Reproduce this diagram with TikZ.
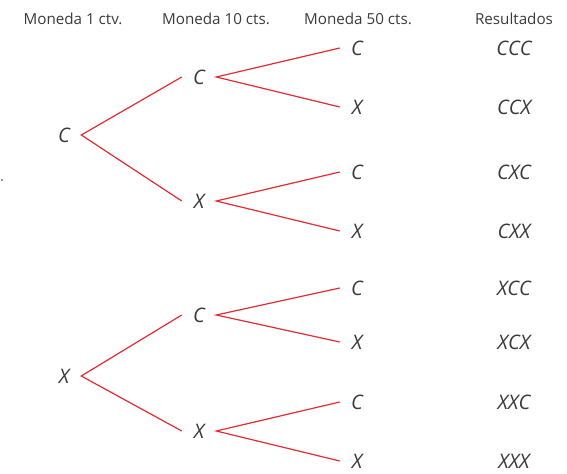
\documentclass[tikz,border=0pt]{standalone}
\usepackage{fontspec}
\setmainfont{Open Sans}
\usepackage{xcolor}
\definecolor{rama}{HTML}{E42A32}
\definecolor{texto}{HTML}{3A3A3A}

\begin{document}
\begin{tikzpicture}[x=0.75pt,y=-0.75pt,
    titulo/.style={text=texto,font=\fontsize{11.4}{14}\selectfont},
    cara/.style={text=texto,font=\fontsize{15}{18}\selectfont\itshape,minimum width=25.5pt,inner sep=0pt},
    rama/.style={draw=rama,line width=0.9pt}]
    \useasboundingbox (0,0) rectangle (567,474);
    % encabezados
    \node[titulo] (t1) at (73,19) {Moneda 1 ctv.};
    \node[titulo] (t2) at (216,19) {Moneda 10 cts.};
    \node[titulo] (t3) at (358,19) {Moneda 50 cts.};
    \node[titulo] (t4) at (514,19) {Resultados};
    \fill[texto] (2,180) circle (0.9);
    % primera moneda
    \node[cara] (a1) at (64,135) {C};
    \node[cara] (a2) at (64,376) {X};
    % segunda moneda
    \node[cara] (b1) at (199,77) {C};
    \node[cara] (b2) at (199,201) {X};
    \node[cara] (b3) at (199,315) {C};
    \node[cara] (b4) at (199,431) {X};
    % tercera moneda y resultados
    \foreach \i/\y/\l/\r in {1/48/C/CCC,2/107/X/CCX,3/172/C/CXC,4/231/X/CXX,
                             5/288/C/XCC,6/342/X/XCX,7/402/C/XXC,8/461/X/XXX}{
        \node[cara] (c\i) at (357,\y) {\l};
        \node[cara] (r\i) at (514,\y) {\r};
    }
    \draw[rama] (b1.west) -- (a1.east) -- (b2.west);
    \draw[rama] (b3.west) -- (a2.east) -- (b4.west);
    \draw[rama] (c1.west) -- (b1.east) -- (c2.west);
    \draw[rama] (c3.west) -- (b2.east) -- (c4.west);
    \draw[rama] (c5.west) -- (b3.east) -- (c6.west);
    \draw[rama] (c7.west) -- (b4.east) -- (c8.west);
\end{tikzpicture}
\end{document}
